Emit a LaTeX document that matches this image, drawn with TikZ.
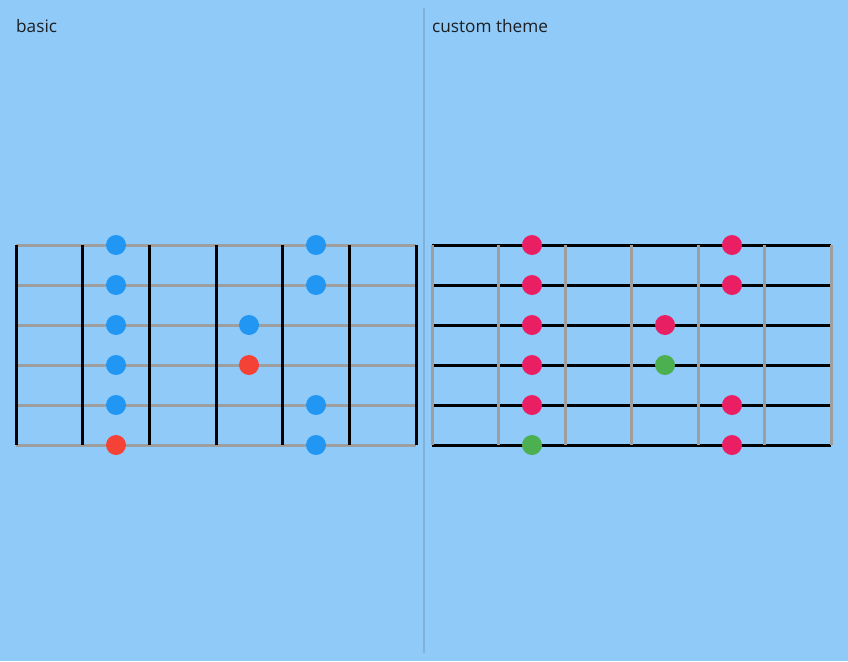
\documentclass[tikz,border=0pt]{standalone}
\usepackage{fontspec}
\setmainfont{Open Sans}
\definecolor{bgblue}{HTML}{90CAF9}
\definecolor{divline}{HTML}{7FB2DB}
\definecolor{stringgray}{HTML}{9E9E9E}
\definecolor{dotblue}{HTML}{2196F3}
\definecolor{dotred}{HTML}{F44336}
\definecolor{dotpink}{HTML}{E91E63}
\definecolor{dotgreen}{HTML}{4CAF50}
\definecolor{labeltext}{HTML}{1C1F22}
\tikzset{
    title/.style={anchor=base west,inner sep=0pt,text=labeltext,font=\fontsize{17.2}{20}\selectfont},
    wire/.style={line width=3pt},
    note/.style={circle,inner sep=0pt,minimum size=20pt},
}

\begin{document}
\begin{tikzpicture}[x=1pt,y=-1pt]
\fill[bgblue] (0,0) rectangle (848,661);
\useasboundingbox (0,0) rectangle (848,661);
\draw[divline,line width=2pt] (424,8) -- (424,653);
\node[title] (basic) at (16,32.5) {basic};
\node[title] (custom) at (432,32.5) {custom theme};
% basic board
\foreach \y in {245,285,...,445}
    \draw[wire,stringgray] (16,\y) -- (416,\y);
\foreach \x in {16,82.67,149.33,216,282.67,349.33,416}
    \draw[wire,black] (\x,245) -- (\x,445);
\foreach \x/\y/\c in {116/245/dotblue,316/245/dotblue,116/285/dotblue,316/285/dotblue,
    116/325/dotblue,249/325/dotblue,116/365/dotblue,249/365/dotred,
    116/405/dotblue,316/405/dotblue,116/445/dotred,316/445/dotblue}
    \node[note,fill=\c] at (\x,\y) {};
% custom theme board
\foreach \y in {245,285,...,445}
    \draw[wire,black] (432,\y) -- (831,\y);
\foreach \x in {432,498.5,565,631.5,698,764.5,831}
    \draw[wire,stringgray] (\x,245) -- (\x,445);
\foreach \x/\y/\c in {532/245/dotpink,732/245/dotpink,532/285/dotpink,732/285/dotpink,
    532/325/dotpink,665/325/dotpink,532/365/dotpink,665/365/dotgreen,
    532/405/dotpink,732/405/dotpink,532/445/dotgreen,732/445/dotpink}
    \node[note,fill=\c] at (\x,\y) {};
\end{tikzpicture}
\end{document}
